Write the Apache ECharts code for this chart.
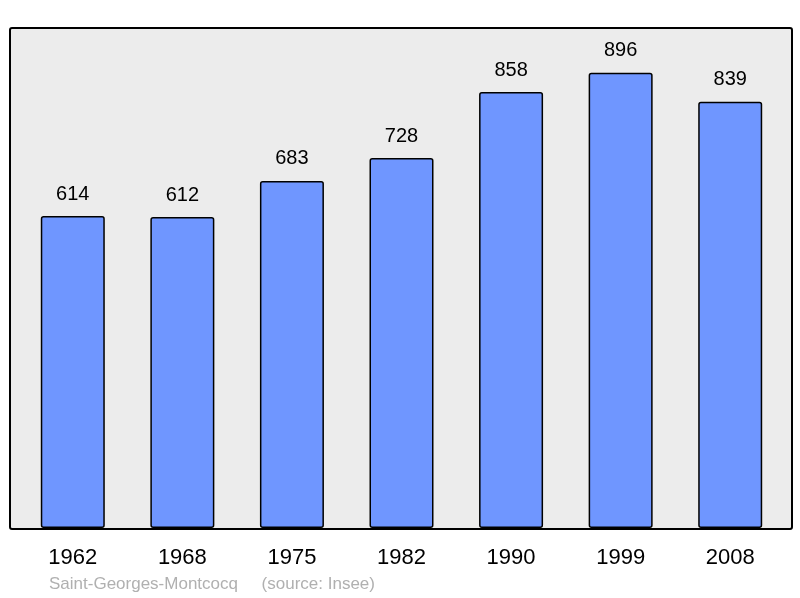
<!DOCTYPE html>
<html>
<head>
<meta charset="utf-8">
<script src="https://cdn.jsdelivr.net/npm/echarts@6/dist/echarts.min.js"></script>
<style>
    html, body { margin: 0; padding: 0; background: #fff; }
    #chart { width: 800px; height: 598px; }
</style>
</head>
<body>
<div id="chart"></div>
<script>
// 数据
const years = ['1962', '1968', '1975', '1982', '1990', '1999', '2008']
const population = [614, 612, 683, 728, 858, 896, 839]
const footerText = 'Saint-Georges-Montcocq     (source: Insee)'

const chart = echarts.init(document.getElementById('chart'))

const option = {
    animation: false,
    textStyle: {
        fontFamily: 'Liberation Sans, Arial, sans-serif'
    },
    // 背景框
    graphic: [
        {
            type: 'rect',
            left: 9,
            top: 27,
            z: -10,
            shape: { width: 782, height: 501, r: 2 },
            style: { fill: '#ececec', stroke: '#000', lineWidth: 2 }
        },
        {
            type: 'text',
            left: 49,
            top: 576,
            style: {
                text: footerText,
                fill: '#b0b0b0',
                font: '17px "Liberation Sans", Arial, sans-serif'
            }
        }
    ],
    grid: {
        left: 18,
        right: 15,
        top: 27,
        bottom: 70
    },
    xAxis: {
        type: 'category',
        data: years,
        axisTick: { show: false },
        axisLine: { show: false },
        axisLabel: {
            color: '#000',
            fontSize: 22,
            margin: 19
        }
    },
    yAxis: {
        type: 'value',
        min: 0,
        max: 986,
        show: false,
        splitLine: { show: false }
    },
    series: [
        {
            type: 'bar',
            data: population,
            barWidth: 64,
            itemStyle: {
                color: '#6f96ff',
                borderColor: '#000',
                borderWidth: 1.5,
                borderRadius: 2
            },
            label: {
                show: true,
                position: 'top',
                distance: 12,
                color: '#000',
                fontSize: 20
            }
        }
    ]
}

chart.setOption(option)
window.addEventListener('resize', () => chart.resize())
</script>
</body>
</html>
